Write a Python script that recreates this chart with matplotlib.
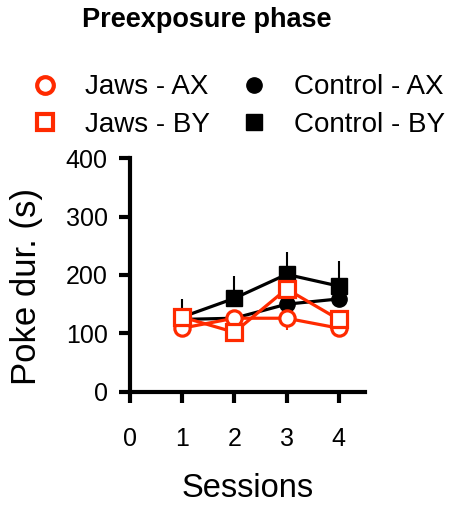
import matplotlib
matplotlib.use('Agg')
import matplotlib.pyplot as plt
from matplotlib.lines import Line2D

plt.rcParams['font.family'] = ['Liberation Sans', 'DejaVu Sans']

# Sitzungen und Mittelwerte
sessions = [1, 2, 3, 4]
jaws_ax = [109, 126, 126, 109]
jaws_ax_err = [8, 8, 20, 8]
jaws_by = [128, 102, 176, 124]
jaws_by_err = [8, 8, 10, 8]
ctrl_ax = [124, 126, 150, 159]
ctrl_ax_err = [10, 10, 30, 20]
ctrl_by = [128, 160, 201, 181]
ctrl_by_err = [31, 38, 38, 43]

RED = '#ff2a00'
lw = 2.3

fig = plt.figure(figsize=(4.51, 5.05), dpi=100)
ax = fig.add_axes([0.288, 0.224, 0.521, 0.463])

# Kontrollgruppe zuerst (liegt unten)
ax.errorbar(sessions, ctrl_ax, yerr=[[0]*4, ctrl_ax_err], color='black', lw=lw,
            marker='o', ms=11, capsize=0, elinewidth=1.5)
ax.errorbar(sessions, ctrl_by, yerr=[[0]*4, ctrl_by_err], color='black', lw=lw,
            marker='s', ms=11, capsize=0, elinewidth=1.5)
# Jaws
ax.errorbar(sessions, jaws_ax, yerr=[jaws_ax_err, [0]*4], color=RED, lw=lw,
            marker='o', ms=11, mfc='white', mew=2.3, capsize=0, elinewidth=1.5)
ax.errorbar(sessions, jaws_by, yerr=[jaws_by_err, [0]*4], color=RED, lw=lw,
            marker='s', ms=12, mfc='white', mew=2.3, capsize=0, elinewidth=1.5)

ax.set_xlim(0, 4.5)
ax.set_ylim(0, 400)
ax.set_xticks([0, 1, 2, 3, 4])
ax.set_yticks([0, 100, 200, 300, 400])
for s in ['top', 'right']:
    ax.spines[s].set_visible(False)
for s in ['left', 'bottom']:
    ax.spines[s].set_linewidth(3)
ax.tick_params(width=3, length=8, labelsize=18)
ax.tick_params(axis='x', pad=17)
ax.tick_params(axis='y', pad=8)
ax.set_xlabel('Sessions', fontsize=23.5, labelpad=16)
ax.set_ylabel('Poke dur. (s)', fontsize=25)
ax.yaxis.set_label_coords(-0.37, 0.45)

# Legende
hs = [Line2D([], [], color=RED, marker='o', ls='', ms=12, mfc='white', mew=3),
      Line2D([], [], color=RED, marker='s', ls='', ms=12, mfc='white', mew=3),
      Line2D([], [], color='black', marker='o', ls='', ms=11),
      Line2D([], [], color='black', marker='s', ls='', ms=11.5)]
ls = ['Jaws - AX', 'Jaws - BY', 'Control - AX', 'Control - BY']
fig.legend(hs, ls, ncol=2, loc='upper left', bbox_to_anchor=(0.044, 0.875),
           frameon=False, fontsize=20, handletextpad=0.94, columnspacing=1.1,
           labelspacing=0.42, handlelength=1.0, borderaxespad=0)

fig.text(0.182, 0.9465, 'Preexposure phase', fontsize=19.5, fontweight='bold',
         va='baseline', ha='left')

fig.savefig('out.png', dpi=100)
